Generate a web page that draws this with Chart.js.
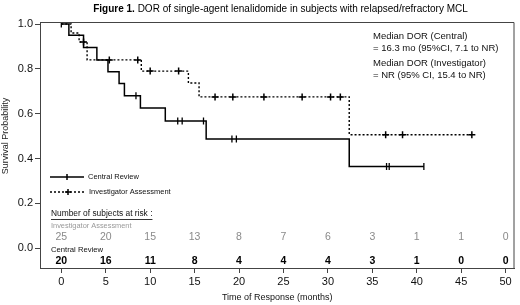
<!DOCTYPE html>
<html>
<head>
<meta charset="utf-8">
<script src="https://cdn.jsdelivr.net/npm/chart.js@4.4.1/dist/chart.umd.min.js"></script>
<style>
  html, body { margin: 0; padding: 0; background: #fff; }
  #c { display: block; }
</style>
</head>
<body>
<canvas id="c" width="520" height="305"></canvas>
<script>
// KM step points (time in months, survival after the step)
var centralTimes = [0, 0.85, 2.5, 4.0, 5.25, 6.5, 7.1, 8.9, 11.7, 16.3, 32.4, 40.8]
var centralSurv = [1.0, 0.95, 0.895, 0.84, 0.787, 0.735, 0.68, 0.625, 0.568, 0.487, 0.365, 0.365]
var centralCensor = [0, 8.4, 13.1, 13.6, 16.0, 19.2, 19.7, 36.6, 36.9, 40.8]

var investTimes = [0, 1.1, 2.0, 2.9, 9.0, 14.3, 15.5, 32.4, 46.2]
var investSurv = [1.0, 0.96, 0.92, 0.84, 0.79, 0.737, 0.675, 0.506, 0.506]
var investCensor = [2.5, 5.4, 8.6, 10.0, 13.2, 17.3, 19.3, 22.8, 27.1, 30.3, 31.4, 36.5, 38.4, 46.2]

var xTicks = [0, 5, 10, 15, 20, 25, 30, 35, 40, 45, 50]
var yTicks = [0, 0.2, 0.4, 0.6, 0.8, 1.0]
var investAtRisk = [25, 20, 15, 13, 8, 7, 6, 3, 1, 1, 0]
var centralAtRisk = [20, 16, 11, 8, 4, 4, 4, 3, 1, 0, 0]

var FONT = "'Liberation Sans', Arial, sans-serif"

function toPoints(times, surv) {
    var pts = []
    for (var i = 0; i < times.length; i++) pts.push({ x: times[i], y: surv[i] })
    return pts
}
function survAt(times, surv, t) {
    var v = surv[0]
    for (var i = 0; i < times.length; i++) {
        if (times[i] <= t) v = surv[i]
    }
    return v
}
function censorPoints(cens, times, surv) {
    return cens.map(function (t) { return { x: t, y: survAt(times, surv, t) } })
}

var annotations = {
    id: 'annotations',
    afterDraw: function (chart) {
        var ctx = chart.ctx
        var area = chart.chartArea
        var xs = chart.scales.x
        ctx.save()

        // frame top & right
        ctx.strokeStyle = '#444'
        ctx.lineWidth = 1
        ctx.beginPath()
        ctx.moveTo(area.left, area.top + 0.5)
        ctx.lineTo(area.right - 0.5, area.top + 0.5)
        ctx.lineTo(area.right - 0.5, area.bottom)
        ctx.stroke()

        // title
        ctx.fillStyle = '#000'
        ctx.textBaseline = 'middle'
        ctx.textAlign = 'left'
        var boldPart = 'Figure 1.'
        var restPart = ' DOR of single-agent lenalidomide in subjects with relapsed/refractory MCL'
        ctx.font = 'bold 10px ' + FONT
        var w1 = ctx.measureText(boldPart).width
        ctx.font = '10px ' + FONT
        var w2 = ctx.measureText(restPart).width
        var tx = 280.5 - (w1 + w2) / 2
        ctx.font = 'bold 10px ' + FONT
        ctx.fillText(boldPart, tx, 9)
        ctx.font = '10px ' + FONT
        ctx.fillText(restPart, tx + w1, 9)

        // y axis title
        ctx.save()
        ctx.translate(6, 136)
        ctx.rotate(-Math.PI / 2)
        ctx.textAlign = 'center'
        ctx.font = '9px ' + FONT
        ctx.fillStyle = '#222'
        ctx.fillText('Survival Probability', 0, 0)
        ctx.restore()

        // medians
        ctx.font = '9.5px ' + FONT
        ctx.fillStyle = '#111'
        ctx.fillText('Median DOR (Central)', 373, 36)
        ctx.fillText('= 16.3 mo (95%CI, 7.1 to NR)', 373, 48)
        ctx.fillText('Median DOR (Investigator)', 373, 63)
        ctx.fillText('= NR (95% CI, 15.4 to NR)', 373, 75)

        // legend
        ctx.strokeStyle = '#000'
        ctx.lineWidth = 1.5
        ctx.beginPath()
        ctx.moveTo(50, 177); ctx.lineTo(84, 177)
        ctx.moveTo(67, 174); ctx.lineTo(67, 180)
        ctx.stroke()
        ctx.setLineDash([2, 2])
        ctx.beginPath()
        ctx.moveTo(50, 192); ctx.lineTo(85, 192)
        ctx.stroke()
        ctx.setLineDash([])
        ctx.beginPath()
        ctx.moveTo(65, 192); ctx.lineTo(71, 192)
        ctx.moveTo(68, 189); ctx.lineTo(68, 195)
        ctx.stroke()
        ctx.font = '7.5px ' + FONT
        ctx.fillStyle = '#111'
        ctx.fillText('Central Review', 88, 177)
        ctx.fillText('Investigator Assessment', 89, 192)

        // at risk table
        ctx.font = '8.4px ' + FONT
        var hdr = 'Number of subjects at risk :'
        ctx.fillText(hdr, 51, 214)
        var hw = ctx.measureText(hdr).width
        ctx.lineWidth = 0.8
        ctx.beginPath()
        ctx.moveTo(51, 219.5); ctx.lineTo(51 + hw, 219.5)
        ctx.stroke()
        ctx.font = '7.4px ' + FONT
        ctx.fillStyle = '#999'
        ctx.fillText('Investigator Assessment', 51, 226)
        ctx.font = '7.7px ' + FONT
        ctx.fillStyle = '#111'
        ctx.fillText('Central Review', 51, 250)

        ctx.textAlign = 'center'
        for (var i = 0; i < xTicks.length; i++) {
            var px = xs.getPixelForValue(xTicks[i])
            ctx.font = '10.5px ' + FONT
            ctx.fillStyle = '#8a8a8a'
            ctx.fillText(String(investAtRisk[i]), px, 237.5)
            ctx.font = 'bold 10.5px ' + FONT
            ctx.fillStyle = '#000'
            ctx.fillText(String(centralAtRisk[i]), px, 261.5)
        }
        ctx.restore()
    }
}

var ctx = document.getElementById('c').getContext('2d')
var chart = new Chart(ctx, {
    type: 'scatter',
    data: {
        datasets: [
            {
                label: 'Central Review',
                data: toPoints(centralTimes, centralSurv),
                showLine: true,
                stepped: 'before',
                borderColor: '#000',
                borderWidth: 1.5,
                pointRadius: 0,
                fill: false
            },
            {
                label: 'Investigator Assessment',
                data: toPoints(investTimes, investSurv),
                showLine: true,
                stepped: 'before',
                borderColor: '#000',
                borderWidth: 1.4,
                borderDash: [2, 2],
                pointRadius: 0,
                fill: false
            },
            {
                label: 'Central censored',
                data: censorPoints(centralCensor, centralTimes, centralSurv),
                showLine: false,
                pointStyle: 'line',
                rotation: 90,
                pointRadius: 3.5,
                borderColor: '#000',
                borderWidth: 1.3
            },
            {
                label: 'Investigator censored',
                data: censorPoints(investCensor, investTimes, investSurv),
                showLine: false,
                pointStyle: 'cross',
                pointRadius: 3.5,
                borderColor: '#000',
                borderWidth: 1.5
            }
        ]
    },
    options: {
        responsive: false,
        animation: false,
        layout: { padding: { top: 22, right: 1, left: 0, bottom: 0 } },
        plugins: {
            legend: { display: false },
            tooltip: { enabled: false }
        },
        scales: {
            x: {
                type: 'linear',
                min: -2.4,
                max: 51,
                afterBuildTicks: function (axis) {
                    axis.ticks = xTicks.map(function (v) { return { value: v } })
                },
                afterFit: function (axis) { axis.height = 37 },
                grid: { drawOnChartArea: false, drawTicks: true, tickLength: 5, color: '#444' },
                border: { display: true, color: '#444', width: 1 },
                ticks: { color: '#111', font: { family: FONT, size: 11 }, padding: 2, maxRotation: 0 },
                title: { display: true, text: 'Time of Response (months)', color: '#111', font: { family: FONT, size: 9 }, padding: { top: 0, bottom: 2 } }
            },
            y: {
                type: 'linear',
                min: -0.088,
                max: 1.009,
                afterBuildTicks: function (axis) {
                    axis.ticks = yTicks.map(function (v) { return { value: v } })
                },
                afterFit: function (axis) { axis.width = 40 },
                grid: { drawOnChartArea: false, drawTicks: true, tickLength: 5, color: '#444' },
                border: { display: true, color: '#444', width: 1 },
                ticks: {
                    color: '#111', font: { family: FONT, size: 11 }, padding: 2,
                    callback: function (v) { return Number(v).toFixed(1) }
                },
                title: { display: false }
            }
        }
    },
    plugins: [annotations]
})
</script>
</body>
</html>
